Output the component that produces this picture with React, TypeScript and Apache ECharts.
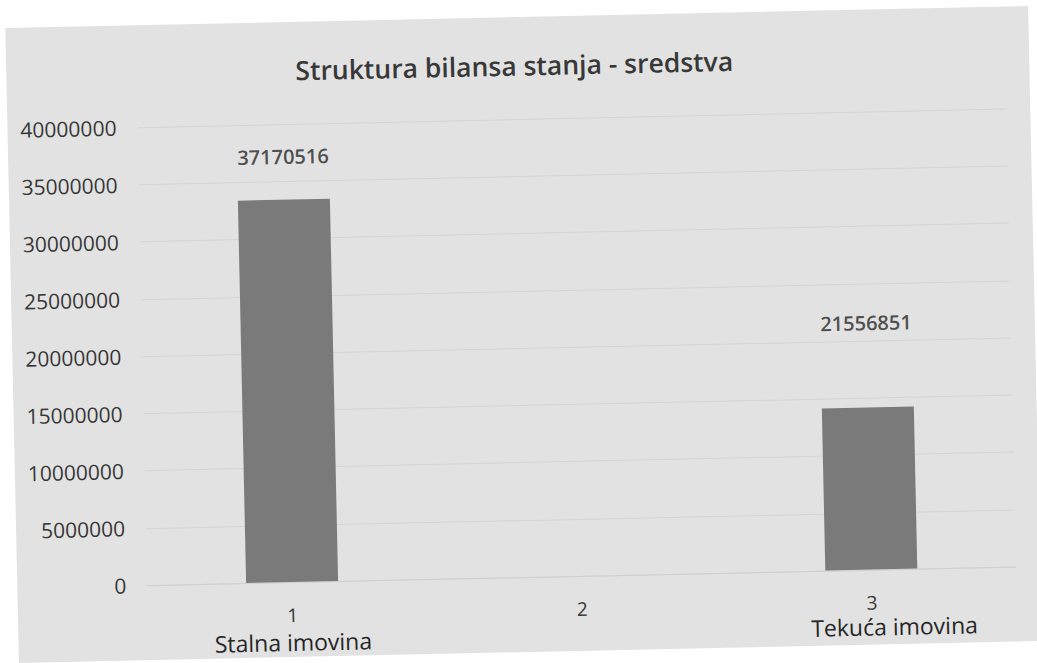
import React, { useEffect, useRef } from "react";
import * as echarts from "echarts";

const titleText = "Struktura bilansa stanja - sredstva";
const categories = ["1", "2", "3"];
const subLabels = ["Stalna imovina", "", "Tekuća imovina"];
// bar heights as drawn in the picture
const barValues: (number | null)[] = [33400000, null, 14150000];
// data label texts/positions as printed in the picture
const labelValues: (number | null)[] = [37170516, null, 21556851];
const yMin = 0;
const yMax = 40000000;
const yStep = 5000000;

const FONT = "'Open Sans', 'Noto Sans', sans-serif";

export default function App() {
  const ref = useRef<HTMLDivElement>(null);
  useEffect(() => {
    if (!ref.current) return;
    const chart = echarts.init(ref.current, null, { renderer: "svg" });
    chart.setOption({
      animation: false,
      backgroundColor: "transparent",
      textStyle: { fontFamily: FONT },
      title: {
        text: titleText,
        left: 503,
        top: 30,
        textAlign: "center",
        textStyle: { fontFamily: FONT, fontSize: 26.5, fontWeight: 600, color: "#383838" },
      },
      grid: { left: 130, right: 24, top: 102, bottom: 75, containLabel: false },
      xAxis: {
        type: "category",
        data: categories,
        axisLine: { show: true, lineStyle: { color: "#d0d0d0" } },
        axisTick: { show: false },
        axisLabel: {
          margin: 21,
          interval: 0,
          formatter: (v: string, i: number) =>
            subLabels[i] ? `{n|${v}}\n{${i === 0 ? "s" : "t"}|${subLabels[i]}}` : `{n|${v}}`,
          rich: {
            n: { fontFamily: FONT, fontSize: 19, lineHeight: 24, color: "#363636" },
            s: { fontFamily: FONT, fontSize: 23, lineHeight: 30, color: "#262626" },
            t: { fontFamily: FONT, fontSize: 23, lineHeight: 24, color: "#262626", padding: [0, 0, 0, 44] },
          },
        },
      },
      yAxis: {
        type: "value",
        min: yMin,
        max: yMax,
        interval: yStep,
        axisLine: { show: false },
        axisTick: { show: false },
        splitLine: { lineStyle: { color: "#d4d4d4", width: 1 } },
        axisLabel: {
          margin: 21,
          fontFamily: FONT,
          fontSize: 21,
          color: "#363636",
          formatter: (v: number) => String(v),
        },
      },
      series: [
        {
          type: "bar",
          data: barValues,
          barWidth: 92,
          itemStyle: { color: "#7a7a7a" },
        },
        {
          type: "scatter",
          data: labelValues,
          symbolSize: 2,
          itemStyle: { color: "rgba(0,0,0,0)" },
          label: {
            show: true,
            position: "inside",
            formatter: (p: any) => String(p.value),
            fontFamily: FONT,
            fontSize: 20,
            fontWeight: 600,
            color: "#262626",
          },
          z: 5,
        },
      ],
    });
    return () => chart.dispose();
  }, []);

  return (
    <div
      style={{
        position: "fixed",
        left: 0,
        top: 0,
        width: 1037,
        height: 663,
        background: "#ffffff",
        overflow: "hidden",
      }}
    >
      <div
        style={{
          position: "absolute",
          left: 12,
          top: 16.5,
          width: 1023,
          height: 635,
          background: "#e2e2e2",
          transform: "rotate(-1.23deg)",
        }}
      >
        <div ref={ref} style={{ width: 1023, height: 635 }} />
      </div>
    </div>
  );
}
